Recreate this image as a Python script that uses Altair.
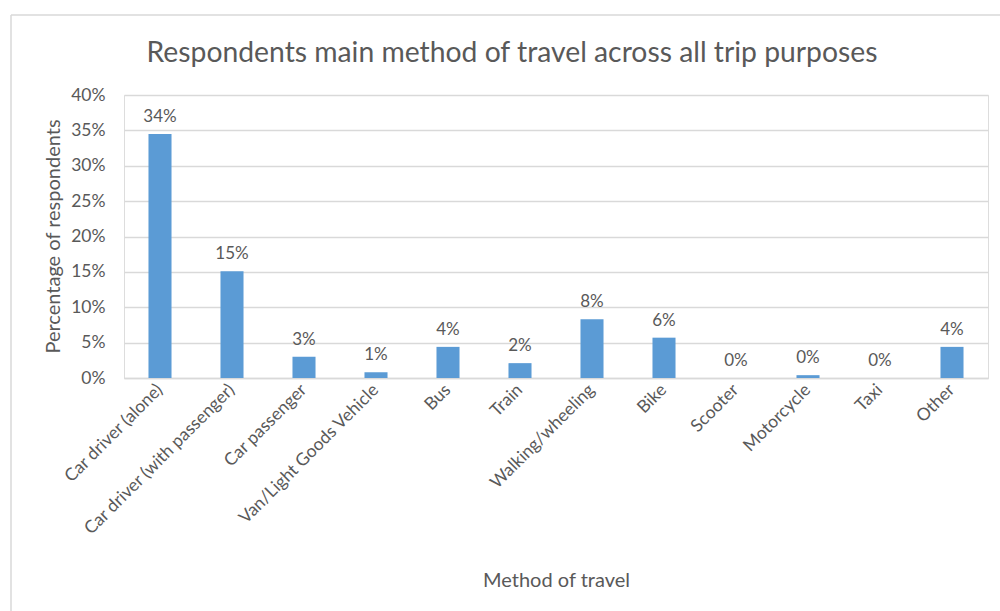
import altair as alt
import pandas as pd

categories = ["Car driver (alone)", "Car driver (with passenger)", "Car passenger",
              "Van/Light Goods Vehicle", "Bus", "Train", "Walking/wheeling", "Bike",
              "Scooter", "Motorcycle", "Taxi", "Other"]
values = [0.345, 0.151, 0.030, 0.008, 0.044, 0.021, 0.083, 0.057, 0.0, 0.004, 0.0, 0.044]
labels = ["34%", "15%", "3%", "1%", "4%", "2%", "8%", "6%", "0%", "0%", "0%", "4%"]
y_ticks = [0, 0.05, 0.10, 0.15, 0.20, 0.25, 0.30, 0.35, 0.40]

df = pd.DataFrame({"method": categories, "value": values, "label": labels})

FONT = "Lato"
GREY = "#595959"
GRID = "#d9d9d9"

x_enc = alt.X("method:N", sort=categories,
              scale=alt.Scale(paddingInner=0.68, paddingOuter=0.34),
              axis=alt.Axis(title="Method of travel", labelAngle=-45, labelAlign="right",
                            labelBaseline="middle", labelPadding=9, ticks=False,
                            domainColor=GRID, domainWidth=1.5, labelOverlap=False,
                            labelLimit=0,
                            labelFont=FONT, labelFontSize=17.5, labelColor=GREY,
                            titleFont=FONT, titleFontSize=20, titleColor=GREY,
                            titleFontWeight="normal", titleY=208, titleBaseline="alphabetic"))

y_enc = alt.Y("value:Q", scale=alt.Scale(domain=[0, 0.4], nice=False),
              axis=alt.Axis(title="Percentage of respondents", values=y_ticks, format=".0%",
                            domain=False, ticks=False, gridColor=GRID, gridWidth=1.5,
                            labelOverlap=False,
                            labelPadding=19, labelFont=FONT, labelFontSize=17.5, labelColor=GREY,
                            titleFont=FONT, titleFontSize=20, titleColor=GREY,
                            titleFontWeight="normal", titleAngle=-90, titleX=-71, titleY=141,
                            titleAlign="center", titleBaseline="middle"))

base = alt.Chart(df)
bars = base.mark_bar(color="#5B9BD5").encode(x=x_enc, y=y_enc)
text = base.mark_text(baseline="bottom", dy=-8, font=FONT, fontSize=17, color=GREY).encode(
    x=x_enc, y=y_enc, text="label:N")

border_df = pd.DataFrame({"a": [0]})
top_border = alt.Chart(border_df).mark_rule(color=GRID, strokeWidth=1.5).encode(
    x=alt.value(-113), x2=alt.value(890), y=alt.value(-80))
left_border = alt.Chart(border_df).mark_rule(color=GRID, strokeWidth=1.5).encode(
    x=alt.value(-113), y=alt.value(-80), y2=alt.value(530))

chart = alt.layer(top_border, left_border, bars, text).properties(
    width=864, height=283,
    padding={"left": 124, "top": 95, "right": 12, "bottom": 233},
    autosize=alt.AutoSizeParams(type="none"),
    title=alt.TitleParams("Respondents main method of travel across all trip purposes",
                          font=FONT, fontSize=28.3, color=GREY, fontWeight="normal",
                          anchor="middle", dx=-44, dy=82, offset=28),
).configure_view(stroke=None).configure(background="white")

chart.save("out.html", embed_options={"renderer": "svg", "actions": False})
